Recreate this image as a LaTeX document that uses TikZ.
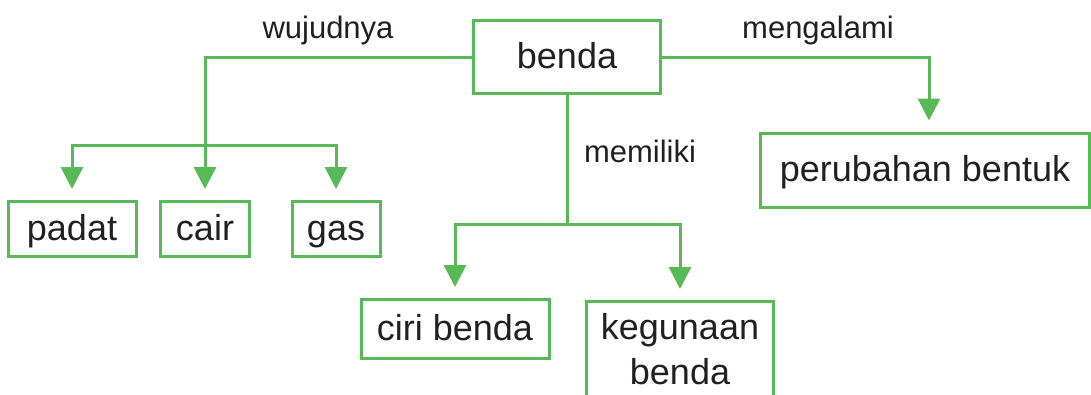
\documentclass[tikz,border=0pt]{standalone}
\usepackage{fontspec}
\setmainfont{Liberation Sans}
\usetikzlibrary{arrows.meta,positioning}
\definecolor{lgreen}{RGB}{88,185,87}
\definecolor{ink}{RGB}{35,31,32}

\begin{document}
\begin{tikzpicture}[x=1pt,y=-1pt,
  box/.style={draw=lgreen,line width=3pt,text=ink,inner sep=0pt,align=center,
    font=\fontsize{36}{45}\selectfont},
  onebox/.style={box,text height=25pt,text depth=3pt},
  lbl/.style={text=ink,inner sep=0pt,font=\fontsize{31}{36}\selectfont},
  link/.style={draw=lgreen,line width=3pt},
  arr/.style={link,-{Triangle[length=22pt,width=22pt]},shorten >=11pt}]
\clip (0,0) rectangle (1091,394);
% top node
\node[onebox,minimum width=187,minimum height=73] (benda) at (567,57) {benda};
% wujud
\node[onebox,minimum width=128,minimum height=55] (padat) at (72,229) {padat};
\node[onebox,minimum width=89,minimum height=55] (cair) at (205,229) {cair};
\node[onebox,minimum width=88,minimum height=55] (gas) at (336,229) {gas};
% ciri dan kegunaan
\node[onebox,minimum width=188,minimum height=59] (ciri) at (455,329) {ciri benda};
\node[box,minimum width=187,inner ysep=12pt,anchor=north] (guna) at (680,300) {kegunaan\\benda};
% perubahan
\node[onebox,minimum width=329,minimum height=74] (ubah) at (925,170) {perubahan bentuk};

\node[lbl] (wujud) at (328,30) {wujudnya};
\node[lbl] (alami) at (818,30) {mengalami};
\node[lbl] (milik) at (640,151) {memiliki};

% branches
\coordinate (wbar) at (205,145);
\coordinate (mbar) at (567,224);
\draw[arr] (benda.west) -| (cair);
\draw[arr] (wbar) -| (padat);
\draw[arr] (wbar) -| (gas);
\draw[link] (benda.south) -- (mbar);
\draw[arr] (mbar) -| (ciri);
\draw[arr] (mbar) -| (guna);
\draw[arr] (benda.east) -| ([xshift=4]ubah.north);
\end{tikzpicture}
\end{document}
